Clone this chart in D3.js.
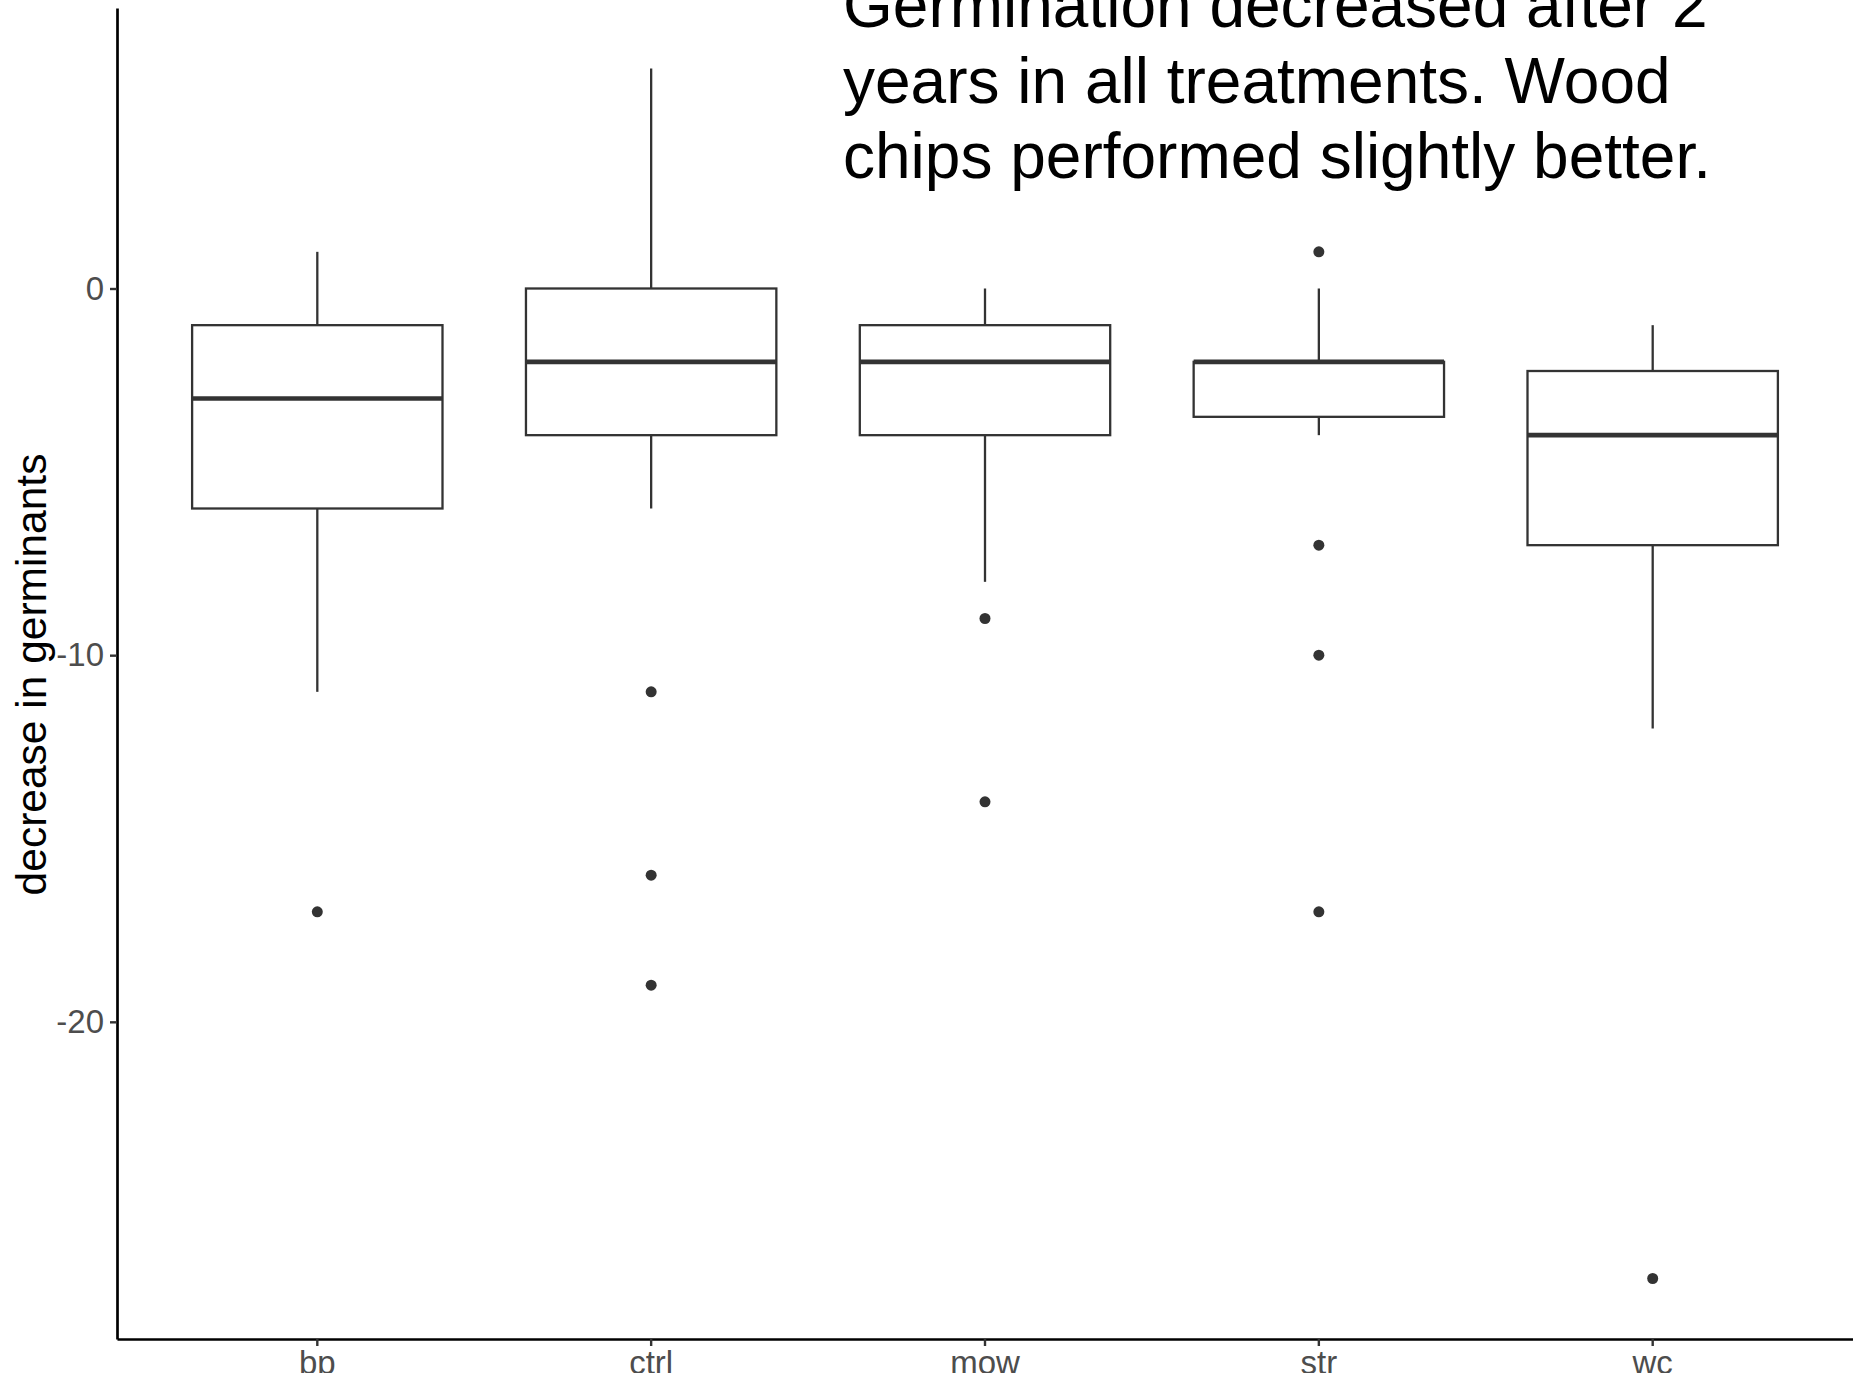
<!DOCTYPE html>
<html>
<head>
<meta charset="utf-8">
<script src="https://cdn.jsdelivr.net/npm/d3@7"></script>
<style>
  html, body { margin: 0; padding: 0; background: #ffffff; overflow: hidden; }
  svg { display: block; }
  text { font-family: "Liberation Sans", Arial, Helvetica, sans-serif; }
</style>
</head>
<body>
<svg id="chart" width="1853" height="1373"></svg>
<script>
// ---- data ----
const categories   = ["bp", "ctrl", "mow", "str", "wc"];
const upperWhisker = [1, 6, 0, 0, -1];
const q3           = [-1, 0, -1, -2, -2.25];
const median       = [-3, -2, -2, -2, -4];
const q1           = [-6, -4, -4, -3.5, -7];
const lowerWhisker = [-11, -6, -8, -4, -12];
const outliers     = [[-17], [-11, -16, -19], [-9, -14], [1, -7, -10, -17], [-27]];
const yTicks       = [-20, -10, 0];
const yTitle       = "decrease in germinants";
const noteLines    = ["Germination decreased after 2", "years in all treatments. Wood", "chips performed slightly better."];

(function () {
  // ---- layout ----
  const W = 1853, H = 1373;
  const pL = 117, pR = 1853, pT = 8, pB = 1339;
  const ink = "#333333";

  const svg = d3.select("#chart");
  svg.append("rect").attr("width", W).attr("height", H).attr("fill", "#fff");

  const x = d3.scaleBand().domain(categories).range([pL, pR]).padding(0.2);
  const y = d3.scaleLinear().domain([-28.65, 7.65]).range([pB, pT]);
  const boxW = x.bandwidth() * 0.75 / 0.8;
  const cx = c => x(c) + x.bandwidth() / 2;

  const boxes = categories.map((c, i) => ({
    c, up: upperWhisker[i], q3: q3[i], med: median[i], q1: q1[i], lo: lowerWhisker[i], out: outliers[i]
  }));

  const g = svg.append("g");

  // whiskers
  g.selectAll("line.wu").data(boxes).join("line").attr("class", "wu")
    .attr("x1", d => cx(d.c)).attr("x2", d => cx(d.c))
    .attr("y1", d => y(d.up)).attr("y2", d => y(d.q3))
    .attr("stroke", ink).attr("stroke-width", 2.3);
  g.selectAll("line.wl").data(boxes).join("line").attr("class", "wl")
    .attr("x1", d => cx(d.c)).attr("x2", d => cx(d.c))
    .attr("y1", d => y(d.q1)).attr("y2", d => y(d.lo))
    .attr("stroke", ink).attr("stroke-width", 2.3);

  // boxes
  g.selectAll("rect.box").data(boxes).join("rect").attr("class", "box")
    .attr("x", d => cx(d.c) - boxW / 2).attr("width", boxW)
    .attr("y", d => y(d.q3)).attr("height", d => y(d.q1) - y(d.q3))
    .attr("fill", "#fff").attr("stroke", ink).attr("stroke-width", 2.3);

  // medians
  g.selectAll("line.med").data(boxes).join("line").attr("class", "med")
    .attr("x1", d => cx(d.c) - boxW / 2).attr("x2", d => cx(d.c) + boxW / 2)
    .attr("y1", d => y(d.med)).attr("y2", d => y(d.med))
    .attr("stroke", ink).attr("stroke-width", 4.6);

  // outliers
  const pts = boxes.flatMap(d => d.out.map(v => ({ c: d.c, v })));
  g.selectAll("circle.out").data(pts).join("circle").attr("class", "out")
    .attr("cx", d => cx(d.c)).attr("cy", d => y(d.v)).attr("r", 5.5)
    .attr("fill", ink);

  // axes
  const yAxis = svg.append("g").attr("transform", `translate(${pL},0)`)
    .call(d3.axisLeft(y).tickValues(yTicks).tickFormat(d3.format("d")).tickSize(7).tickSizeOuter(0).tickPadding(6));
  const xAxis = svg.append("g").attr("transform", `translate(0,${pB})`)
    .call(d3.axisBottom(x).tickSize(7).tickSizeOuter(0).tickPadding(5));

  [yAxis, xAxis].forEach(a => {
    a.select(".domain").attr("stroke", "#000").attr("stroke-width", 2.7);
    a.selectAll(".tick line").attr("stroke", ink).attr("stroke-width", 2.4);
    a.selectAll(".tick text").attr("fill", "#4D4D4D")
      .style("font-family", '"Liberation Sans", Arial, sans-serif').attr("font-size", 33);
  });
  yAxis.selectAll(".tick text").text(d => d < 0 ? "-" + Math.abs(d) : d);

  // y title
  svg.append("text")
    .attr("transform", `translate(46,${(pT + pB) / 2 + 1}) rotate(-90)`)
    .attr("text-anchor", "middle")
    .attr("font-size", 42.5).attr("fill", "#000")
    .text(yTitle);

  // annotation
  const note = svg.append("text").attr("x", 843).attr("font-size", 64).attr("fill", "#000");
  note.selectAll("tspan").data(noteLines).join("tspan")
    .attr("x", 843).attr("y", (d, i) => 27 + i * 75.5).text(d => d);
})();
</script>
</body>
</html>
